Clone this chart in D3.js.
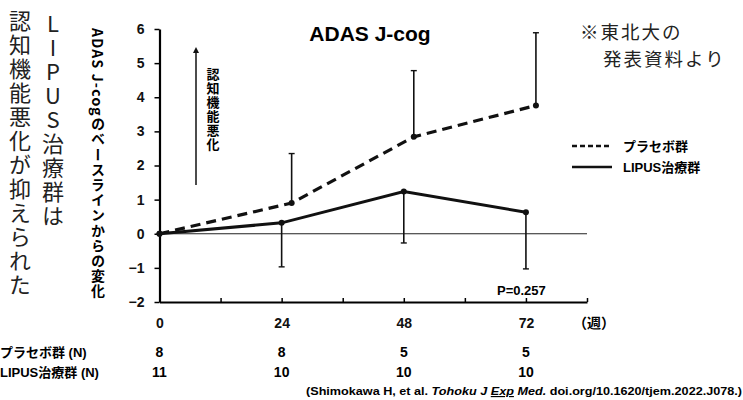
<!DOCTYPE html>
<html>
<head>
<meta charset="utf-8">
<script src="https://cdn.jsdelivr.net/npm/d3@7"></script>
<style>
  body { margin: 0; background: #fff; }
  svg { display: block; }
  .jp { font-family: "Noto Sans CJK JP", sans-serif; }
  .bold { font-family: "Liberation Sans", Arial, "Noto Sans CJK JP", sans-serif; font-weight: bold; }
</style>
</head>
<body>
<div id="chart"></div>
<script>
// weeks of follow-up
const weeks = [0, 24, 48, 72];
const xTicks = [0, 12, 24, 36, 48, 60, 72, 84];
const yTicks = [-2, -1, 0, 1, 2, 3, 4, 5, 6];

// change from baseline in ADAS J-cog
const placeboMean = [0, 0.9, 2.84, 3.76];
const placeboUpper = [0, 2.35, 4.78, 5.89];
const lipusMean = [0, 0.32, 1.24, 0.63];
const lipusLower = [0, -0.97, -0.27, -1.03];

// number of patients
const placeboN = [8, 8, 5, 5];
const lipusN = [11, 10, 10, 10];

const seriesNames = ["プラセボ群", "LIPUS治療群"];

const width = 743;
const height = 400;

const svg = d3
  .select("#chart")
  .append("svg")
  .attr("width", width)
  .attr("height", height);

const x = d3.scaleLinear().domain([0, 84]).range([159.5, 587]);
const y = d3.scaleLinear().domain([-2, 6]).range([302, 29]);

// placebo points sit a little to the right of the week
const offset = 10;

// zero line
svg
  .append("line")
  .attr("x1", x(0))
  .attr("x2", x(84))
  .attr("y1", y(0))
  .attr("y2", y(0))
  .attr("stroke", "#222")
  .attr("stroke-width", 1.2);

// y axis
const yAxis = svg
  .append("g")
  .attr("transform", `translate(${x(0)},0)`)
  .call(d3.axisLeft(y).tickValues(yTicks).tickSize(5).tickSizeOuter(0).tickPadding(10));
yAxis.select(".domain").attr("stroke-width", 2.2);
yAxis.selectAll(".tick line").attr("stroke-width", 1.5);
yAxis
  .selectAll("text")
  .attr("class", "bold")
  .style("font-size", "14px")
  .attr("fill", "#111");

// x axis, ticks point up
const xAxis = svg
  .append("g")
  .attr("transform", `translate(0,${y(-2)})`)
  .call(
    d3
      .axisBottom(x)
      .tickValues(xTicks)
      .tickSize(-4)
      .tickSizeOuter(0)
      .tickPadding(16)
      .tickFormat((d) => (weeks.includes(d) ? d : "")),
  );
xAxis.select(".domain").attr("stroke-width", 2);
xAxis.selectAll(".tick line").attr("stroke-width", 1.5);
xAxis
  .selectAll("text")
  .attr("class", "bold")
  .style("font-size", "14px")
  .attr("fill", "#111");

svg
  .append("text")
  .attr("class", "bold")
  .attr("x", 573)
  .attr("y", 328)
  .style("font-size", "14px")
  .text("（週）");

// error bars
const cap = 3;
function errorBars(cls, means, ends, dx) {
  const g = svg.append("g").attr("class", cls);
  const d = weeks.map((w, i) => ({ w, m: means[i], e: ends[i] })).filter((p) => p.w > 0);
  g.selectAll("line.bar")
    .data(d)
    .join("line")
    .attr("class", "bar")
    .attr("x1", (p) => x(p.w) + dx)
    .attr("x2", (p) => x(p.w) + dx)
    .attr("y1", (p) => y(p.m))
    .attr("y2", (p) => y(p.e))
    .attr("stroke", "#111")
    .attr("stroke-width", 1.6);
  g.selectAll("line.cap")
    .data(d)
    .join("line")
    .attr("class", "cap")
    .attr("x1", (p) => x(p.w) + dx - cap)
    .attr("x2", (p) => x(p.w) + dx + cap)
    .attr("y1", (p) => y(p.e))
    .attr("y2", (p) => y(p.e))
    .attr("stroke", "#111")
    .attr("stroke-width", 1.4);
}
errorBars("placebo-err", placeboMean, placeboUpper, offset);
errorBars("lipus-err", lipusMean, lipusLower, 0);

// lines
const line = d3
  .line()
  .x((d) => x(d.w) + d.dx)
  .y((d) => y(d.v));

const placeboPts = weeks.map((w, i) => ({ w, v: placeboMean[i], dx: w > 0 ? offset : 0 }));
const lipusPts = weeks.map((w, i) => ({ w, v: lipusMean[i], dx: 0 }));

svg
  .append("path")
  .datum(placeboPts)
  .attr("d", line)
  .attr("fill", "none")
  .attr("stroke", "#111")
  .attr("stroke-width", 3.2)
  .attr("stroke-dasharray", "10,6");

svg
  .append("path")
  .datum(lipusPts)
  .attr("d", line)
  .attr("fill", "none")
  .attr("stroke", "#111")
  .attr("stroke-width", 3);

svg
  .selectAll("circle.pt")
  .data(placeboPts.concat(lipusPts))
  .join("circle")
  .attr("class", "pt")
  .attr("cx", (d) => x(d.w) + d.dx)
  .attr("cy", (d) => y(d.v))
  .attr("r", 3)
  .attr("fill", "#111");

// title
svg
  .append("text")
  .attr("class", "bold")
  .attr("x", 370)
  .attr("y", 41)
  .attr("text-anchor", "middle")
  .style("font-size", "21px")
  .text("ADAS J-cog");

// arrow for worsening
svg
  .append("defs")
  .append("marker")
  .attr("id", "arrow")
  .attr("viewBox", "0 0 10 10")
  .attr("refX", 5)
  .attr("refY", 5)
  .attr("markerWidth", 4)
  .attr("markerHeight", 5)
  .attr("orient", "auto")
  .append("path")
  .attr("d", "M0,0L10,5L0,10z")
  .attr("fill", "#111");

svg
  .append("line")
  .attr("x1", 196)
  .attr("x2", 196)
  .attr("y1", 185)
  .attr("y2", 50)
  .attr("stroke", "#111")
  .attr("stroke-width", 1.5)
  .attr("marker-end", "url(#arrow)");

svg
  .append("text")
  .attr("class", "jp")
  .attr("x", 213)
  .attr("y", 68)
  .style("writing-mode", "vertical-rl")
  .style("font-size", "13px")
  .style("font-weight", "bold")
  .style("letter-spacing", "1px")
  .text("認知機能悪化");

// y axis title, vertical writing
svg
  .append("text")
  .attr("class", "jp")
  .attr("x", 98)
  .attr("y", 28)
  .style("writing-mode", "vertical-rl")
  .style("font-size", "14px")
  .style("font-weight", "bold")
  .style("letter-spacing", "1.2px")
  .text("ADAS J-cogのベースラインからの変化");

// big headline on the left
svg
  .append("text")
  .attr("class", "jp")
  .attr("x", 20)
  .attr("y", 10)
  .style("writing-mode", "vertical-rl")
  .style("font-size", "22px")
  .style("letter-spacing", "2px")
  .attr("fill", "#222")
  .text("認知機能悪化が抑えられた");

svg
  .append("text")
  .attr("class", "jp")
  .attr("x", 53)
  .attr("y", 13)
  .style("writing-mode", "vertical-rl")
  .style("text-orientation", "upright")
  .style("font-size", "22px")
  .style("letter-spacing", "2px")
  .attr("fill", "#222")
  .text("LIPUS治療群は");

// source note
svg
  .append("text")
  .attr("class", "jp")
  .attr("x", 580)
  .attr("y", 39)
  .style("font-size", "18.5px")
  .style("letter-spacing", "2px")
  .attr("fill", "#222")
  .text("※東北大の");
svg
  .append("text")
  .attr("class", "jp")
  .attr("x", 603)
  .attr("y", 66)
  .style("font-size", "18.5px")
  .style("letter-spacing", "2px")
  .attr("fill", "#222")
  .text("発表資料より");

// legend
const legend = svg
  .selectAll(".legend-group")
  .data(seriesNames)
  .join("g")
  .attr("class", "legend-group")
  .attr("transform", (_d, i) => `translate(572,${146 + i * 21})`);

legend
  .append("line")
  .attr("x1", 0)
  .attr("x2", 40)
  .attr("stroke", "#111")
  .attr("stroke-width", 2.6)
  .attr("stroke-dasharray", (_d, i) => (i === 0 ? "5,3" : null));

legend
  .append("text")
  .attr("class", "bold")
  .attr("x", 51)
  .attr("y", 5)
  .style("font-size", "13px")
  .text((d) => d);

// p value
svg
  .append("text")
  .attr("class", "bold")
  .attr("x", 497)
  .attr("y", 295)
  .style("font-size", "13px")
  .text("P=0.257");

// N table
const rows = [
  { label: "プラセボ群 (N)", values: placeboN, yPos: 357 },
  { label: "LIPUS治療群 (N)", values: lipusN, yPos: 377 },
];
rows.forEach((r) => {
  svg
    .append("text")
    .attr("class", "bold")
    .attr("x", 0)
    .attr("y", r.yPos)
    .style("font-size", "13px")
    .text(r.label);
  svg
    .selectAll(null)
    .data(r.values)
    .join("text")
    .attr("class", "bold")
    .attr("x", (_d, i) => x(weeks[i]))
    .attr("y", r.yPos)
    .attr("text-anchor", "middle")
    .style("font-size", "14px")
    .text((d) => d);
});

// citation
const cite = svg
  .append("text")
  .attr("class", "bold")
  .attr("x", 306)
  .attr("y", 395)
  .attr("textLength", 436)
  .attr("lengthAdjust", "spacingAndGlyphs")
  .style("font-size", "11.5px");
cite.append("tspan").text("(Shimokawa H, et al.  ");
cite.append("tspan").style("font-style", "italic").text("Tohoku J ");
cite
  .append("tspan")
  .style("font-style", "italic")
  .style("text-decoration", "underline")
  .text("Exp");
cite.append("tspan").style("font-style", "italic").text(" Med.");
cite.append("tspan").text(" doi.org/10.1620/tjem.2022.J078.)");
</script>
</body>
</html>
